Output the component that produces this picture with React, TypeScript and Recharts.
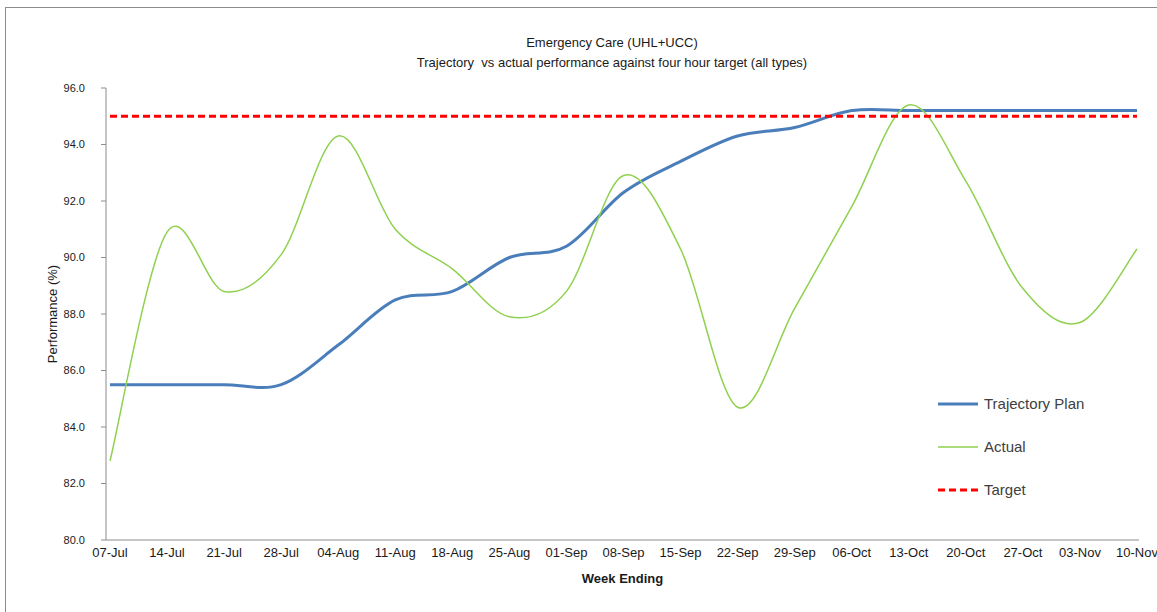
import React from 'react'
import { LineChart, Line, XAxis, YAxis, Legend } from 'recharts'

const weeks = [
  '07-Jul', '14-Jul', '21-Jul', '28-Jul', '04-Aug', '11-Aug', '18-Aug', '25-Aug', '01-Sep', '08-Sep',
  '15-Sep', '22-Sep', '29-Sep', '06-Oct', '13-Oct', '20-Oct', '27-Oct', '03-Nov', '10-Nov',
]
const trajectoryPlan = [
  85.5, 85.5, 85.5, 85.5, 86.9, 88.5, 88.8, 90.0, 90.4, 92.3,
  93.4, 94.3, 94.6, 95.2, 95.2, 95.2, 95.2, 95.2, 95.2,
]
const actual = [
  82.8, 90.9, 88.8, 90.1, 94.3, 91.0, 89.6, 87.9, 88.8, 92.9,
  90.3, 84.7, 88.2, 91.8, 95.4, 92.7, 88.9, 87.7, 90.3,
]
const targetValue = 95
const yTicks = [80, 82, 84, 86, 88, 90, 92, 94, 96]

const data = weeks.map((week, i) => ({
  week,
  plan: trajectoryPlan[i],
  actual: actual[i],
  target: targetValue,
}))

const FONT = '"Liberation Sans", Arial, sans-serif'

// excel style smoothed line (catmull-rom through every point)
const excelSmooth = (context: any) => {
  let pts: number[][] = []
  return {
    areaStart() {},
    areaEnd() {},
    lineStart() {
      pts = []
    },
    point(x: number, y: number) {
      pts.push([+x, +y])
    },
    lineEnd() {
      if (!pts.length) return
      context.moveTo(pts[0][0], pts[0][1])
      for (let i = 0; i < pts.length - 1; i++) {
        const p0 = pts[i - 1] || pts[i]
        const p1 = pts[i]
        const p2 = pts[i + 1]
        const p3 = pts[i + 2] || p2
        context.bezierCurveTo(
          p1[0] + (p2[0] - p0[0]) / 6,
          p1[1] + (p2[1] - p0[1]) / 6,
          p2[0] - (p3[0] - p1[0]) / 6,
          p2[1] - (p3[1] - p1[1]) / 6,
          p2[0],
          p2[1],
        )
      }
    },
  }
}

const series = [
  { key: 'plan', name: 'Trajectory Plan', color: '#4a7ebb', width: 3, dash: undefined },
  { key: 'actual', name: 'Actual', color: '#8fd14f', width: 1.5, dash: undefined },
  { key: 'target', name: 'Target', color: '#ff0000', width: 3, dash: '7 4' },
]

const renderLegend = () => (
  <div style={{ fontFamily: FONT, fontSize: 15, color: '#404040' }}>
    {series.map((s) => (
      <div key={s.key} style={{ display: 'flex', alignItems: 'center', height: 43 }}>
        <svg width={44} height={6} style={{ marginRight: 2 }}>
          <line x1={0} y1={3} x2={40} y2={3} stroke={s.color} strokeWidth={s.width} strokeDasharray={s.dash} />
        </svg>
        <span>{s.name}</span>
      </div>
    ))}
  </div>
)

export default function App() {
  return (
    <div style={{ position: 'absolute', left: 0, top: 0, width: 1157, height: 612, overflow: 'hidden', background: '#fff' }}>
      <div style={{ position: 'absolute', left: 5, top: 7, width: 1200, height: 700, border: '1px solid #8c8c8c' }} />
      <div style={{ position: 'absolute', left: 0, width: 1224, top: 33, textAlign: 'center', fontFamily: FONT, fontSize: 13, color: '#1a1a1a', lineHeight: '20px' }}>
        <div>Emergency Care (UHL+UCC)</div>
        <div>Trajectory&nbsp; vs actual performance against four hour target (all types)</div>
      </div>
      <div style={{ position: 'absolute', left: 0, top: 0 }}>
        <LineChart width={1157} height={612} data={data} margin={{ top: 88, right: 18, bottom: 42, left: 46 }}>
          <XAxis
            dataKey="week"
            height={30}
            padding={{ left: 4, right: 2 }}
            stroke="#8c8c8c"
            tickLine={false}
            tickMargin={2}
            interval={0}
            tick={{ fill: '#1a1a1a', fontSize: 13, fontFamily: FONT }}
            label={{ value: 'Week Ending', position: 'bottom', offset: 4, fill: '#1a1a1a', fontSize: 13, fontWeight: 'bold', fontFamily: FONT }}
          />
          <YAxis
            width={60}
            domain={[80, 96]}
            ticks={yTicks}
            stroke="#8c8c8c"
            tickSize={5}
            tickMargin={16}
            tickFormatter={(v: number) => v.toFixed(1)}
            tick={{ fill: '#1a1a1a', fontSize: 11, fontFamily: FONT }}
            label={{ value: 'Performance (%)', angle: -90, position: 'insideLeft', offset: 6, textAnchor: 'middle', fill: '#1a1a1a', fontSize: 13, fontFamily: FONT }}
          />
          <Line type={excelSmooth as any} dataKey="plan" name="Trajectory Plan" stroke="#4a7ebb" strokeWidth={3} dot={false} isAnimationActive={false} />
          <Line type={excelSmooth as any} dataKey="actual" name="Actual" stroke="#8fd14f" strokeWidth={1.5} dot={false} isAnimationActive={false} />
          <Line type="linear" dataKey="target" name="Target" stroke="#ff0000" strokeWidth={3} strokeDasharray="7 4" dot={false} isAnimationActive={false} />
          <Legend
            layout="horizontal"
            verticalAlign="middle"
            align="center"
            content={renderLegend}
            wrapperStyle={{ left: 938, top: 382, width: 210 }}
          />
        </LineChart>
      </div>
    </div>
  )
}
